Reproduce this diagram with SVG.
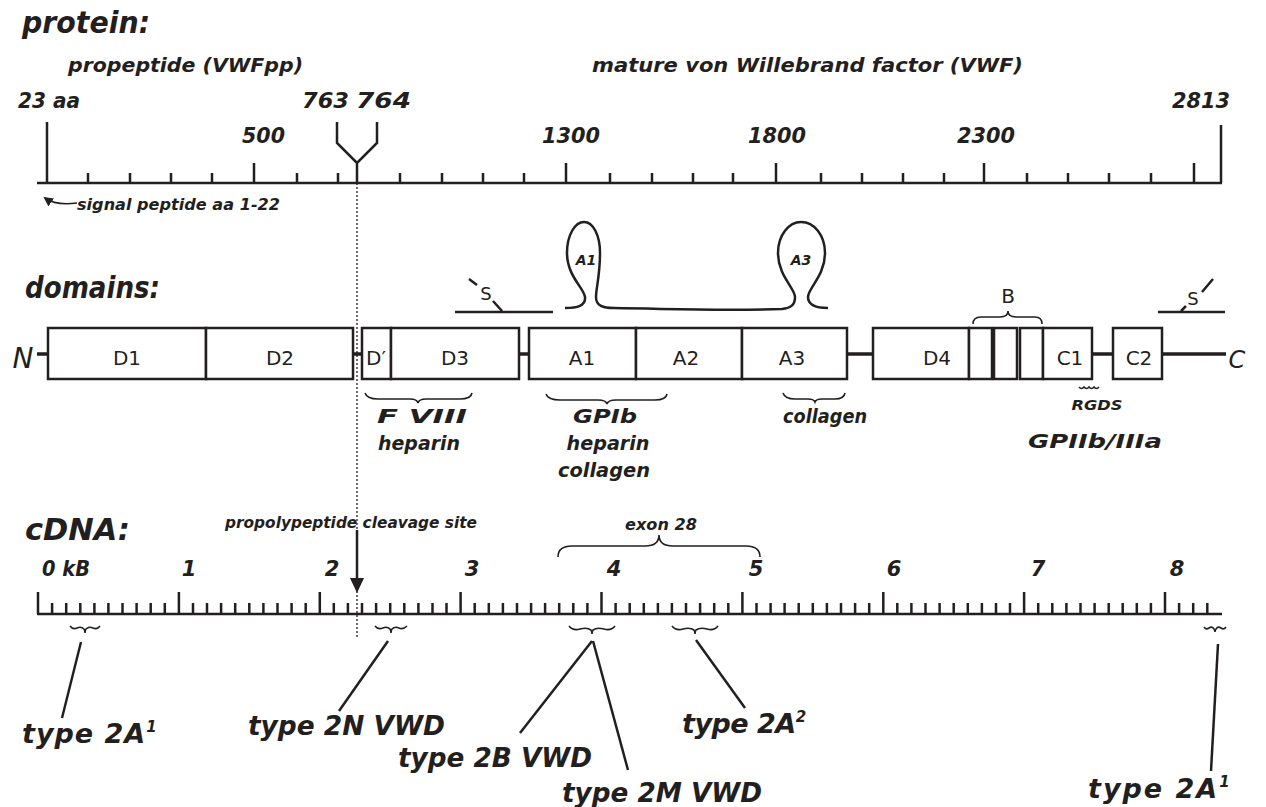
<svg xmlns="http://www.w3.org/2000/svg" width="1266" height="807" viewBox="0 0 1266 807">
<defs>
<style>
text{font-family:"DejaVu Sans","Liberation Sans",sans-serif;fill:#231f20}
.bi{font-weight:bold;font-style:italic}
.t30{font-size:30px}
.t21{font-size:21px}
.t20{font-size:20px}
.t19{font-size:19px}
.t15{font-size:15px}
.t14{font-size:14px}
.box text,.up{font-size:20px;text-anchor:middle}
.mid{text-anchor:middle}
.ln{stroke:#231f20;fill:none;stroke-width:2.5}
.thin{stroke:#231f20;fill:none;stroke-width:1.6}
.thick{stroke:#231f20;fill:none;stroke-width:3.5}
.box rect{fill:#fff;stroke:#231f20;stroke-width:2.5}
</style>
<marker id="ah" viewBox="0 0 10 10" refX="8" refY="5" markerWidth="6" markerHeight="6" orient="auto-start-reverse">
<path d="M0,0 L10,5 L0,10 z" fill="#231f20"/>
</marker>
</defs>
<rect width="1266" height="807" fill="#fff"/>

<!-- PROTEIN -->
<g id="protein">
<text class="bi t30" x="22" y="33" textLength="128" lengthAdjust="spacingAndGlyphs">protein:</text>
<text class="bi t20" x="68" y="72" textLength="235" lengthAdjust="spacingAndGlyphs">propeptide (VWFpp)</text>
<text class="bi t20" x="592" y="72" textLength="431" lengthAdjust="spacingAndGlyphs">mature von Willebrand factor (VWF)</text>
<text class="bi t21" x="18" y="108" textLength="62" lengthAdjust="spacingAndGlyphs">23 aa</text>
<text class="bi t21" x="302" y="108" textLength="47" lengthAdjust="spacingAndGlyphs">763</text>
<text class="bi t21" x="356" y="108" textLength="55" lengthAdjust="spacingAndGlyphs">764</text>
<text class="bi t21" x="242" y="143" textLength="43" lengthAdjust="spacingAndGlyphs">500</text>
<text class="bi t21" x="542" y="143" textLength="58" lengthAdjust="spacingAndGlyphs">1300</text>
<text class="bi t21" x="748" y="143" textLength="58" lengthAdjust="spacingAndGlyphs">1800</text>
<text class="bi t21" x="957" y="143" textLength="58" lengthAdjust="spacingAndGlyphs">2300</text>
<text class="bi t21" x="1172" y="108" textLength="58" lengthAdjust="spacingAndGlyphs">2813</text>
<path class="ln" stroke-width="3" d="M37,183 H1222"/>
<path class="ln" d="M88,173V183M130,173V183M171,173V183M212,173V183M297,173V183M338,173V183M400,173V183M442,173V183M483,173V183M524,173V183M610,173V183M652,173V183M693,173V183M733,173V183M821,173V183M862,173V183M903,173V183M944,173V183M1027,173V183M1068,173V183M1109,173V183M1151,173V183"/>
<path class="ln" d="M254,163V183M566,163V183M776,163V183M984,163V183M1194,163V183"/>
<path class="ln" stroke-width="3" d="M47,122V183M1221,125V183"/>
<path class="ln" stroke-width="3" d="M337,122V143L357,163L377,143V122M357,163V183"/>
<text class="bi t15" x="77" y="210" textLength="203" lengthAdjust="spacingAndGlyphs">signal peptide aa 1-22</text>
</g>

<!-- DOMAINS -->
<g id="domains-title">
<text class="bi t30" x="25" y="298" textLength="135" lengthAdjust="spacingAndGlyphs">domains:</text>
<text class="up" x="23" y="368" style="font-size:28px;font-style:italic">N</text>
<text class="up" x="1237" y="368" style="font-size:24px;font-style:italic">C</text>
</g>
<g id="domain-links">
<path class="thick" d="M37,354H48M353,354H362M519,354H529M847,354H873M1092,354H1113M1162,354H1226"/>
</g>
<g id="D1" class="box"><rect x="48" y="328" width="158" height="51"/><text x="127" y="365">D1</text></g>
<g id="D2" class="box"><rect x="206" y="328" width="147" height="51"/><text x="280" y="365">D2</text></g>
<g id="Dprime" class="box"><rect x="362" y="328" width="29" height="51"/><text x="376" y="365">D′</text></g>
<g id="D3" class="box"><rect x="391" y="328" width="128" height="51"/><text x="455" y="365">D3</text></g>
<g id="A1" class="box"><rect x="529" y="328" width="107" height="51"/><text x="582" y="365">A1</text></g>
<g id="A2" class="box"><rect x="636" y="328" width="106" height="51"/><text x="686" y="365">A2</text></g>
<g id="A3" class="box"><rect x="742" y="328" width="105" height="51"/><text x="792" y="365">A3</text></g>
<g id="D4" class="box"><rect x="873" y="328" width="96" height="51"/><text x="937" y="365">D4</text></g>
<g id="B1" class="box"><rect x="969" y="328" width="23" height="51"/></g>
<g id="B2" class="box"><rect x="994" y="328" width="23" height="51"/></g>
<g id="B3" class="box"><rect x="1020" y="328" width="23" height="51"/></g>
<g id="C1" class="box"><rect x="1043" y="328" width="49" height="51"/><text x="1070" y="365">C1</text></g>
<g id="C2" class="box"><rect x="1113" y="328" width="49" height="51"/><text x="1139" y="365">C2</text></g>

<g id="B-label">
<text class="up" x="1008" y="303">B</text>
<path class="thin" d="M973,324 Q973,317 981,317 L1000,317 Q1008,317 1008,311 Q1008,317 1016,317 L1035,317 Q1042,317 1042,324"/>
</g>

<g id="disulfide-left">
<path class="ln" stroke-width="3" d="M455,312H553M469,279L477,285M493,301L502,311"/>
<text class="up" x="486" y="300" style="font-size:18px">S</text>
</g>
<g id="disulfide-right">
<path class="ln" stroke-width="3" d="M1158,312H1225M1181,311L1186,306M1202,292L1213,279"/>
<text class="up" x="1193" y="305" style="font-size:18px">S</text>
</g>

<g id="loops">
<path class="ln" stroke-width="2.2" d="M565,308 C577,308 586,306 585,297 C584,288 567,276 567,253 C567,235 575,222 584,222 C593,222 600,235 600,253 C600,276 596,288 596,297 C596,306 603,308 614,308 C680,309 720,311 782,309 C791,308 795,305 795,297 C795,288 778,276 778,253 C778,235 789,222 801,222 C814,222 825,235 825,253 C825,276 808,288 808,297 C808,305 815,308 828,308"/>
<text class="bi t14 mid" x="586" y="265">A1</text>
<text class="bi t14 mid" x="801" y="265">A3</text>
</g>

<g id="binding-labels">
<path class="thin" d="M365,393 Q367,399 378,399 L410,399 Q417,399 418,403 Q419,399 426,399 L460,399 Q471,399 472,393"/>
<path class="thin" d="M546,394 Q548,400 560,400 L598,400 Q606,400 607,404 Q608,400 616,400 L655,400 Q666,400 667,394"/>
<path class="thin" d="M783,393 Q785,399 795,399 L808,399 Q814,399 815,402 Q816,399 822,399 L835,399 Q844,399 845,393"/>
<path class="thin" d="M1079,387 q2.5,3 5,0 q2.5,3 5,0 q2.5,3 5,0 q2.5,3 5,0"/>
<text class="bi t19 mid" x="422" y="423" textLength="90" lengthAdjust="spacingAndGlyphs">F VIII</text>
<text class="bi t19 mid" x="419" y="450" textLength="82" lengthAdjust="spacingAndGlyphs">heparin</text>
<text class="bi t19 mid" x="605" y="423" textLength="64" lengthAdjust="spacingAndGlyphs">GPIb</text>
<text class="bi t19 mid" x="608" y="450" textLength="83" lengthAdjust="spacingAndGlyphs">heparin</text>
<text class="bi t19 mid" x="604" y="477" textLength="92" lengthAdjust="spacingAndGlyphs">collagen</text>
<text class="bi t19 mid" x="825" y="423" textLength="84" lengthAdjust="spacingAndGlyphs">collagen</text>
<text class="bi t14 mid" x="1097" y="410" textLength="51" lengthAdjust="spacingAndGlyphs">RGDS</text>
<text class="bi t19 mid" x="1095" y="448" textLength="134" lengthAdjust="spacingAndGlyphs">GPIIb/IIIa</text>
</g>

<!-- CDNA -->
<g id="cdna">
<text class="bi t30" x="25" y="540" textLength="105" lengthAdjust="spacingAndGlyphs">cDNA:</text>
<text class="bi t15" x="225" y="528" textLength="252" lengthAdjust="spacingAndGlyphs">propolypeptide cleavage site</text>
<text class="bi t15" x="625" y="530" textLength="72" lengthAdjust="spacingAndGlyphs">exon 28</text>
<path class="thin" d="M558,557 Q558,546 572,546 L645,546 Q659,546 659,535 Q659,546 673,546 L746,546 Q760,546 760,557"/>
<text class="bi t21" x="42" y="576" textLength="48" lengthAdjust="spacingAndGlyphs">0 kB</text>
<text class="bi t21 mid" x="189" y="576">1</text>
<text class="bi t21 mid" x="332" y="576">2</text>
<text class="bi t21 mid" x="472" y="576">3</text>
<text class="bi t21 mid" x="614" y="576">4</text>
<text class="bi t21 mid" x="756" y="576">5</text>
<text class="bi t21 mid" x="894" y="576">6</text>
<text class="bi t21 mid" x="1038" y="576">7</text>
<text class="bi t21 mid" x="1177" y="576">8</text>
<path class="ln" stroke-width="3" d="M37,614 H1222"/>
<path class="ln" d="M38,592V614M178.9,592V614M319.8,592V614M460.6,592V614M601.5,592V614M742.4,592V614M883.3,592V614M1024.1,592V614M1165,592V614"/>
<path class="ln" stroke-width="2" d="M52.1,603V614M66.2,603V614M80.3,603V614M94.4,603V614M108.4,603V614M122.5,603V614M136.6,603V614M150.7,603V614M164.8,603V614M193,603V614M207,603V614M221.1,603V614M235.2,603V614M249.3,603V614M263.4,603V614M277.5,603V614M291.6,603V614M305.7,603V614M333.8,603V614M347.9,603V614M362,603V614M376.1,603V614M390.2,603V614M404.3,603V614M418.4,603V614M432.5,603V614M446.5,603V614M474.7,603V614M488.8,603V614M502.9,603V614M517,603V614M531.1,603V614M545.1,603V614M559.2,603V614M573.3,603V614M587.4,603V614M615.6,603V614M629.7,603V614M643.8,603V614M657.9,603V614M671.9,603V614M686,603V614M700.1,603V614M714.2,603V614M728.3,603V614M756.5,603V614M770.6,603V614M784.6,603V614M798.7,603V614M812.8,603V614M826.9,603V614M841,603V614M855.1,603V614M869.2,603V614M897.3,603V614M911.4,603V614M925.5,603V614M939.6,603V614M953.7,603V614M967.8,603V614M981.9,603V614M996,603V614M1010,603V614M1038.2,603V614M1052.3,603V614M1066.4,603V614M1080.5,603V614M1094.6,603V614M1108.7,603V614M1122.7,603V614M1136.8,603V614M1150.9,603V614M1179.1,603V614M1193.2,603V614M1207.3,603V614"/>
</g>

<g id="mutation-sites">
<path class="thin" d="M70,626 q3,4 7,2 q4,-2 7,1 q1,2 1,4 q0,-2 1,-4 q3,-3 7,-1 q4,2 7,-2"/>
<path class="thin" d="M375,626 q3,4 8,2 q4,-2 7,1 q1,2 1,4 q0,-2 1,-4 q3,-3 7,-1 q4,2 8,-2"/>
<path class="thin" d="M569,626 q4,5 11,3 q7,-2 11,1 q1,2 1,4 q0,-2 1,-4 q4,-3 11,-1 q7,2 11,-3"/>
<path class="thin" d="M672,626 q4,5 11,3 q7,-2 11,1 q1,2 1,4 q0,-2 1,-4 q4,-3 11,-1 q7,2 11,-3"/>
<path class="thin" d="M1204,627 q2,3 5,1 q3,-2 5,1 q1,2 1,3 q0,-1 1,-3 q2,-3 5,-1 q3,2 5,-1"/>
</g>

<g id="connectors">
<path d="M357,183 V638" stroke="#231f20" stroke-width="1.3" stroke-dasharray="2,2" fill="none"/>
<path class="thin" d="M77,203 C63,205 52,203 45,198" marker-end="url(#ah)"/>
<path class="ln" d="M357,530 V580"/>
<path d="M350,578 L364,578 L357,593 Z" fill="#231f20"/>
<path class="ln" stroke-width="2.2" d="M81,642 L62,718"/>
<path class="ln" stroke-width="2.2" d="M388,641 L339,711"/>
<path class="ln" stroke-width="2.2" d="M592,641 L520,733"/>
<path class="ln" stroke-width="2.2" d="M593,641 L628,770"/>
<path class="ln" stroke-width="2.2" d="M696,640 L745,708"/>
<path class="ln" stroke-width="2.2" d="M1218,644 L1211,771"/>
</g>

<g id="type-labels">
<text class="bi" font-size="27" x="22" y="743" letter-spacing="1">type 2A<tspan font-size="15" dy="-11">1</tspan></text>
<text class="bi" font-size="27" x="248" y="735" textLength="197" lengthAdjust="spacingAndGlyphs">type 2N VWD</text>
<text class="bi" font-size="27" x="398" y="767" textLength="194" lengthAdjust="spacingAndGlyphs">type 2B VWD</text>
<text class="bi" font-size="27" x="562" y="802" textLength="200" lengthAdjust="spacingAndGlyphs">type 2M VWD</text>
<text class="bi" font-size="27" x="682" y="733" letter-spacing="-0.5">type 2A<tspan font-size="15" dy="-11">2</tspan></text>
<text class="bi" font-size="27" x="1088" y="798" letter-spacing="2">type 2A<tspan font-size="15" dy="-11">1</tspan></text>
</g>
</svg>
